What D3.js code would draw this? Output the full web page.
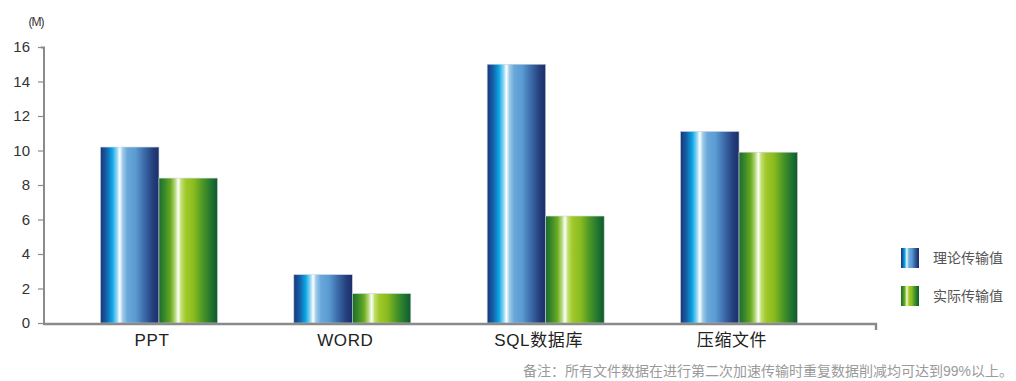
<!DOCTYPE html>
<html><head><meta charset="utf-8">
<script src="https://cdn.jsdelivr.net/npm/d3@7"></script>
<style>body{margin:0;background:#fff}svg{display:block}</style>
</head><body><svg id="c" width="1016" height="381"></svg>
<script>
const categories = ["PPT", "WORD", "SQL数据库", "压缩文件"];
const theoretical = [10.2, 2.8, 15.0, 11.1];
const actual = [8.4, 1.7, 6.2, 9.9];
const seriesNames = ["理论传输值", "实际传输值"];
const yTicks = [0, 2, 4, 6, 8, 10, 12, 14, 16];
const unitLabel = "(M)";
const note = "备注：所有文件数据在进行第二次加速传输时重复数据削减均可达到99%以上。";

const svg = d3.select("#c");
const font = "'Liberation Sans', Arial, 'Noto Sans CJK SC', sans-serif";
const defs = svg.append("defs");
function grad(id, stops) {
  const g = defs.append("linearGradient").attr("id", id).attr("x1", "0").attr("x2", "1").attr("y1", "0").attr("y2", "0");
  stops.forEach(([o, c]) => g.append("stop").attr("offset", o).attr("stop-color", c));
}
grad("gBlue", [[0, "#1b3577"], [0.1, "#1560a8"], [0.2, "#0aa5e3"], [0.28, "#8fd6f5"], [0.33, "#ffffff"], [0.38, "#9fcbea"], [0.46, "#6aa8da"], [0.6, "#5a9bd2"], [0.75, "#3b6aa8"], [0.9, "#243e7c"], [1, "#1b2f6a"]]);
grad("gGreen", [[0, "#1c6a2e"], [0.1, "#3a8a2a"], [0.2, "#6aaa22"], [0.28, "#b8dc80"], [0.33, "#ffffff"], [0.38, "#c0e070"], [0.46, "#a0c828"], [0.6, "#8abb1f"], [0.75, "#4a9626"], [0.9, "#1f7330"], [1, "#0f5a2a"]]);

const y = d3.scaleLinear().domain([0, 16]).range([323, 47]);
const x = d3.scaleBand().domain(categories).range([62.3, 835.7]).paddingInner(0.395).paddingOuter(0.1975);
const xs = d3.scaleBand().domain([0, 1]).range([0, x.bandwidth()]);

const data = categories.map((c, i) => ({c, vals: [theoretical[i], actual[i]]}));
const fills = ["url(#gBlue)", "url(#gGreen)"];

const groups = svg.append("g").selectAll("g").data(data).join("g")
  .attr("transform", d => `translate(${x(d.c)},0)`);
groups.selectAll("rect").data(d => d.vals).join("rect")
  .attr("x", (d, i) => xs(i))
  .attr("width", xs.bandwidth())
  .attr("y", d => y(d))
  .attr("height", d => y(0) - y(d))
  .attr("fill", (d, i) => fills[i])
  .attr("stroke", "#c8d0d8").attr("stroke-width", 0.6);

// y axis
const ya = svg.append("g").attr("transform", "translate(44,0)")
  .call(d3.axisLeft(y).tickValues(yTicks).tickSize(6).tickPadding(8).tickFormat(d3.format("d")));
ya.select(".domain").attr("stroke", "#8a8a8a").attr("stroke-width", 2).attr("d", "M-3,47.5H0V324");
ya.selectAll(".tick line").attr("stroke", "#8a8a8a").attr("stroke-width", 1.2);
ya.selectAll(".tick text").attr("font-family", font).attr("font-size", 15).attr("fill", "#333");

// x axis
const xa = svg.append("g").attr("transform", "translate(0,324)")
  .call(d3.axisBottom(x).tickSize(0).tickPadding(10));
xa.select(".domain").attr("stroke", "#8a8a8a").attr("stroke-width", 2.4).attr("d", "M43,0H876V6");
xa.selectAll(".tick text").attr("font-family", font).attr("font-size", 17).attr("fill", "#222")
  .attr("letter-spacing", "0.6px").attr("dx", -7);

svg.append("text").attr("x", 36).attr("y", 26).attr("text-anchor", "middle")
  .attr("font-family", font).attr("font-size", 12).attr("fill", "#333").attr("letter-spacing", "-1px").text(unitLabel);

// legend
const leg = svg.append("g").selectAll("g").data(seriesNames).join("g")
  .attr("transform", (d, i) => `translate(901,${248 + i * 38})`);
leg.append("rect").attr("width", 18).attr("height", 20).attr("fill", (d, i) => fills[i]);
leg.append("text").attr("x", 32).attr("y", 15).attr("font-family", font).attr("font-size", 14).attr("fill", "#555").text(d => d);

svg.append("text").attr("x", 1013).attr("y", 376).attr("text-anchor", "end")
  .attr("font-family", font).attr("font-size", 14).attr("fill", "#9a9a9a").text(note);
</script></body></html>
